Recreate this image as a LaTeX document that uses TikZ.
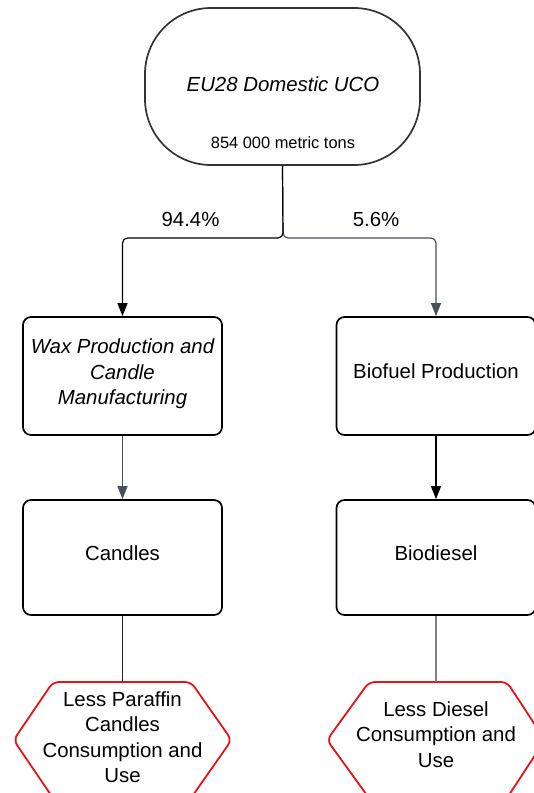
\documentclass[tikz,border=0pt]{standalone}
\usepackage{fontspec}
\setmainfont{Liberation Sans}
\usetikzlibrary{arrows.meta}
\definecolor{slate}{RGB}{72,80,92}
\definecolor{hexred}{RGB}{230,20,25}
\begin{document}
\begin{tikzpicture}[x=1pt,y=-1pt,
  big/.style={font=\fontsize{20.4}{25.5}\selectfont},
  small/.style={font=\fontsize{16.4}{19}\selectfont},
  box/.style={draw=black, line width=1.7pt, rounded corners=8pt, minimum width=199pt, minimum height=118pt, inner sep=0pt},
  lowbox/.style={box, minimum height=115pt},
  txt/.style={align=center, big, inner sep=0pt},
  stadium/.style={draw=black!80, line width=1.7pt, rounded corners=66pt, minimum width=275pt, minimum height=157pt, inner sep=0pt},
  tip/.style={-{Triangle[width=10pt,length=13pt]}},
  connK/.style={draw=black, line width=1.2pt},
  connG/.style={draw=slate, line width=1.2pt},
  hexline/.style={draw=hexred, line width=1.8pt, rounded corners=6pt}]
\useasboundingbox (0,0) rectangle (534,793);
% top
\node[stadium] (uco) at (282.5,86.5) {};
\node[txt] (ucoT) at (283,84) {\itshape EU28 Domestic UCO};
\node[small, inner sep=0pt] (ucoS) at (283,143) {854 000 metric tons};
\coordinate (split) at (283,238);
% boxes
\node[box] (wax) at (122.5,376) {};
\node[txt] (waxT) at (122.5,374) {\itshape Wax Production and\\\itshape Candle\\\itshape Manufacturing};
\node[box] (bio) at (436,376) {};
\node[txt] (bioT) at (436,371) {Biofuel Production};
\node[lowbox] (candles) at (122.5,557.5) {};
\node[txt] (candlesT) at (122.5,553) {Candles};
\node[lowbox] (diesel) at (436,557.5) {};
\node[txt] (dieselT) at (436,553) {Biodiesel};
% labels
\node[txt] (pL) at (190.5,219) {94.4\%};
\node[txt] (pR) at (376,219) {5.6\%};
% connectors from top
\draw[connG, tip, rounded corners=5pt] (uco.south) -- (split) -| (bio.north);
\draw[connK, tip, rounded corners=5pt] (uco.south) -- (split) -| (wax.north);
\draw[connG, tip] (wax.south) -- (candles.north);
\draw[connK, tip] (bio.south) -- (diesel.north);
% hexagons
\draw[hexline] (13.6,740) -- (53,682) -- (191,682) -- (231.6,740) -- (191,798) -- (53,798) -- cycle;
\draw[hexline] (327,740) -- (369,682) -- (507,682) -- (545,740) -- (507,798) -- (369,798) -- cycle;
\coordinate (hexLtop) at (122.5,682);
\coordinate (hexRtop) at (436,682);
\node[txt] (hexL) at (122.5,737) {Less Paraffin\\Candles\\Consumption and\\Use};
\node[txt] (hexR) at (436,734.5) {Less Diesel\\Consumption and\\Use};
\draw[draw=black!85, line width=1.2pt] (candles.south) -- (hexLtop);
\draw[draw=black!50, line width=1.2pt] (diesel.south) -- (hexRtop);
\end{tikzpicture}
\end{document}
